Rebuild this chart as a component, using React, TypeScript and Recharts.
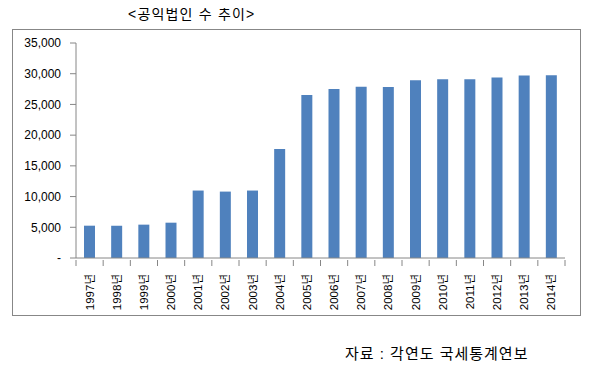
import { BarChart, Bar, XAxis, YAxis } from 'recharts'

const years = ['1997년', '1998년', '1999년', '2000년', '2001년', '2002년', '2003년', '2004년', '2005년',
    '2006년', '2007년', '2008년', '2009년', '2010년', '2011년', '2012년', '2013년', '2014년']
const counts = [5260, 5250, 5430, 5750, 10980, 10810, 10980, 17740, 26530,
    27510, 27890, 27850, 28950, 29100, 29100, 29400, 29700, 29750]
const yTicks = [0, 5000, 10000, 15000, 20000, 25000, 30000, 35000]

const data = years.map((year, i) => ({ year, count: counts[i] }))

const FONT = '"Liberation Sans", "Noto Sans CJK KR", sans-serif'
const AXIS = '#868686'

const YearTick = (props: any) => {
    const { x, y, payload, index } = props
    const half = payload?.offset ?? 13.6
    return (
        <g>
            <line x1={x - half} y1={y - 6} x2={x - half} y2={y} stroke={AXIS} />
            {index === years.length - 1 && <line x1={x + half} y1={y - 6} x2={x + half} y2={y} stroke={AXIS} />}
            <text
                x={x}
                y={y}
                transform={`rotate(-90, ${x}, ${y})`}
                textAnchor="end"
                dx={-8}
                dy={4}
                fontSize={11.5}
                fill="#000"
                fontFamily={FONT}
            >
                {payload.value}
            </text>
        </g>
    )
}

const App = () => {
    return (
        <div style={{ position: 'relative', width: 593, height: 375, margin: -8, background: '#fff', fontFamily: FONT }}>
            <div style={{ position: 'absolute', left: 128, top: 3, fontSize: 14, letterSpacing: 1.2, color: '#000', whiteSpace: 'nowrap' }}>
                &lt;공익법인 수 추이&gt;
            </div>
            <div style={{ position: 'absolute', left: 12, top: 29, width: 569, height: 287, border: '1px solid #878787', boxSizing: 'border-box' }}>
                <BarChart
                    width={567}
                    height={285}
                    data={data}
                    margin={{ top: 13, right: 15, left: 0, bottom: 0 }}
                    barCategoryGap="30%"
                >
                    <XAxis
                        dataKey="year"
                        stroke={AXIS}
                        tickLine={false}
                        interval={0}
                        height={57}
                        tick={<YearTick />}
                    />
                    <YAxis
                        width={63}
                        domain={[0, 35000]}
                        ticks={yTicks}
                        interval={0}
                        stroke={AXIS}
                        tickSize={6}
                        tickMargin={9}
                        tick={{ fill: '#000', fontSize: 12, fontFamily: FONT }}
                        tickFormatter={(v: number) => (v === 0 ? '-' : v.toLocaleString('en-US'))}
                    />
                    <Bar dataKey="count" fill="#4F81BD" barSize={11} isAnimationActive={false} />
                </BarChart>
            </div>
            <div style={{ position: 'absolute', left: 345, top: 342, fontSize: 15, letterSpacing: 1, color: '#000', whiteSpace: 'nowrap' }}>
                자료 : 각연도 국세통계연보
            </div>
        </div>
    )
}

export default App
